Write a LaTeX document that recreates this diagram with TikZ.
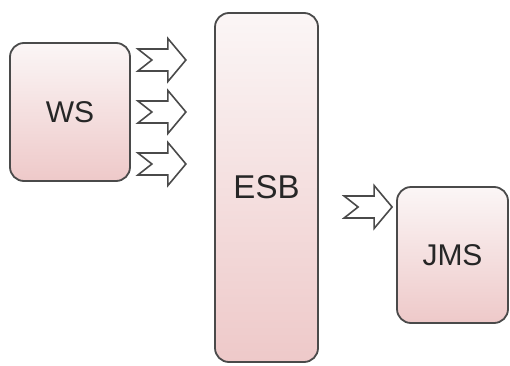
\documentclass[tikz,border=0pt]{standalone}
\usepackage{fontspec}
\setmainfont{Liberation Sans}
\usepackage{tikz}
\usetikzlibrary{positioning,calc}

\definecolor{boxtop}{HTML}{FBF6F6}
\definecolor{boxbottom}{HTML}{EEC9C9}
\definecolor{boxline}{HTML}{4A4A4A}

\tikzset{
    block/.style={draw=boxline,line width=1.8pt,rounded corners=14pt,top color=boxtop,bottom color=boxbottom,text=black!85,font=\fontsize{30}{30}\selectfont,inner sep=0pt},
    blockarr/.style={draw=boxline,line width=1.6pt,fill=white,line join=miter}
}

\begin{document}
\begin{tikzpicture}[x=1pt,y=1pt]

\def\arrbody{11}
\def\arrhead{21.5}

\newcommand\blockarrow[1]
{
    \draw[blockarr] (#1) ++(0,\arrbody) -- ++(30,0) -- ++(0,\arrhead-\arrbody) -- ++(18,-\arrhead) -- ++(-18,-\arrhead) -- ++(0,\arrhead-\arrbody) -- ++(-30,0) -- ++(14,\arrbody) -- cycle;
}

\useasboundingbox (0,0) rectangle (510,365);

\node (ws) [block,minimum width=120pt,minimum height=138pt] at (70,253) {WS};
\node (esb) [block,minimum width=103pt,minimum height=349pt,font=\fontsize{33}{33}\selectfont] at (266.5,177.5) {ESB};
\node (jms) [block,minimum width=111pt,minimum height=136pt] at (452.5,110) {JMS};

\foreach \i [evaluate=\i as \dy using \i*52] in {-1,0,1}
{
    \coordinate (in\i) at ($(ws.east)+(7,\dy)$);
    \blockarrow{in\i}
}

\coordinate (out) at ($(jms.west)+(-52,48)$);
\blockarrow{out}

\end{tikzpicture}
\end{document}
